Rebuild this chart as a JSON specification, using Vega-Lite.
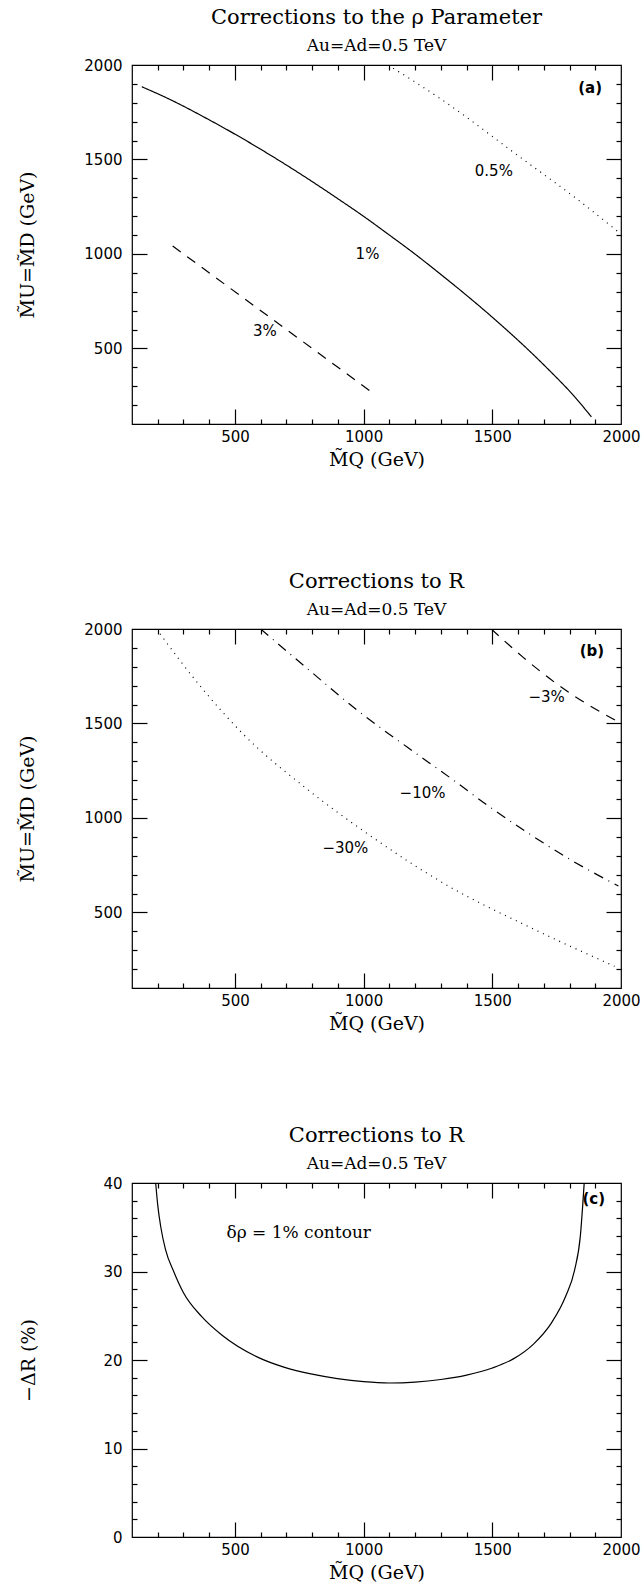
{
  "$schema": "https://vega.github.io/schema/vega-lite/v6.json",
  "background": "white",
  "padding": {"left": 18, "top": 6, "right": 10, "bottom": 5},
  "spacing": 90,
  "resolve": {"scale": {"strokeDash": "independent"}},
  "config": {
    "view": {"stroke": "black", "strokeWidth": 1.2},
    "axis": {"domain": false, "grid": false, "labelFont": "DejaVu Sans", "labelFontSize": 15, "labelColor": "black", "titleFont": "DejaVu Serif", "titleFontSize": 19, "titleFontWeight": "normal", "titleColor": "black", "tickColor": "black", "tickWidth": 1.2, "labelFlush": false, "labelOverlap": false, "format": "d"},
    "title": {"font": "DejaVu Serif", "fontSize": 21, "fontWeight": "normal", "color": "black", "subtitleFont": "DejaVu Serif", "subtitleFontSize": 17, "subtitleColor": "black", "subtitlePadding": 10, "offset": 4, "anchor": "middle"}
  },
  "vconcat": [
    {
      "width": 489, "height": 359,
      "title": {"text": "Corrections to the ρ Parameter", "subtitle": "Au=Ad=0.5 TeV"},
      "layer": [
        {
          "data": {"values": [
            {"series": "1%", "x": 138, "y": 1885}, {"series": "1%", "x": 250, "y": 1816}, {"series": "1%", "x": 386, "y": 1720}, {"series": "1%", "x": 500, "y": 1634}, {"series": "1%", "x": 600, "y": 1554}, {"series": "1%", "x": 704, "y": 1467}, {"series": "1%", "x": 800, "y": 1383}, {"series": "1%", "x": 910, "y": 1283}, {"series": "1%", "x": 1000, "y": 1199}, {"series": "1%", "x": 1100, "y": 1100}, {"series": "1%", "x": 1199, "y": 1000}, {"series": "1%", "x": 1283, "y": 910}, {"series": "1%", "x": 1383, "y": 800}, {"series": "1%", "x": 1467, "y": 704}, {"series": "1%", "x": 1554, "y": 600}, {"series": "1%", "x": 1634, "y": 500}, {"series": "1%", "x": 1720, "y": 386}, {"series": "1%", "x": 1816, "y": 250}, {"series": "1%", "x": 1885, "y": 138},
            {"series": "3%", "x": 258, "y": 1042}, {"series": "3%", "x": 650, "y": 650}, {"series": "3%", "x": 1045, "y": 255},
            {"series": "0.5%", "x": 1095, "y": 2000}, {"series": "0.5%", "x": 1300, "y": 1820}, {"series": "0.5%", "x": 1620, "y": 1500}, {"series": "0.5%", "x": 1820, "y": 1300}, {"series": "0.5%", "x": 2000, "y": 1105}
          ]},
          "mark": {"type": "line", "color": "black", "strokeWidth": 1.2, "clip": true, "interpolate": "monotone"},
          "encoding": {
            "x": {"field": "x", "type": "quantitative", "scale": {"domain": [100, 2000], "nice": false, "zero": false}, "axis": {"orient": "bottom", "values": [500, 1000, 1500, 2000], "ticks": false, "labelPadding": 5, "title": ["M̃Q (GeV)", ""], "titleLineHeight": 10, "titlePadding": 6}},
            "y": {"field": "y", "type": "quantitative", "scale": {"domain": [100, 2000], "nice": false, "zero": false}, "axis": {"orient": "left", "values": [500, 1000, 1500, 2000], "ticks": false, "labelPadding": 10, "minExtent": 48, "title": "M̃U=M̃D (GeV)", "titlePadding": 46}},
            "strokeDash": {"field": "series", "type": "nominal", "scale": {"domain": ["1%", "3%", "0.5%"], "range": [[1, 0], [10, 8], [1, 5]]}, "legend": null}
          }
        },
        {
          "data": {"values": [
            {"t": "0.5%", "x": 1506, "y": 1439}, {"t": "1%", "x": 1015, "y": 1000}, {"t": "3%", "x": 616, "y": 592}
          ]},
          "mark": {"type": "text", "font": "DejaVu Sans", "fontSize": 15, "color": "black"},
          "encoding": {
            "x": {"field": "x", "type": "quantitative", "scale": {"domain": [100, 2000], "nice": false, "zero": false}, "axis": {"orient": "bottom", "values": [200, 300, 400, 500, 600, 700, 800, 900, 1000, 1100, 1200, 1300, 1400, 1500, 1600, 1700, 1800, 1900], "labels": false, "title": null, "tickSize": {"condition": {"test": "datum.value % 500 === 0", "value": -15}, "value": -5}}},
            "y": {"field": "y", "type": "quantitative", "scale": {"domain": [100, 2000], "nice": false, "zero": false}, "axis": {"orient": "left", "values": [200, 300, 400, 500, 600, 700, 800, 900, 1000, 1100, 1200, 1300, 1400, 1500, 1600, 1700, 1800, 1900], "labels": false, "title": null, "tickSize": {"condition": {"test": "datum.value % 500 === 0", "value": -15}, "value": -5}}},
            "text": {"field": "t"}
          }
        },
        {
          "data": {"values": [{"t": "(a)", "x": 1880, "y": 1878}]},
          "mark": {"type": "text", "font": "DejaVu Sans", "fontSize": 15, "fontWeight": "bold", "color": "black"},
          "encoding": {
            "x": {"field": "x", "type": "quantitative", "scale": {"domain": [100, 2000], "nice": false, "zero": false}, "axis": {"orient": "top", "values": [200, 300, 400, 500, 600, 700, 800, 900, 1000, 1100, 1200, 1300, 1400, 1500, 1600, 1700, 1800, 1900], "labels": false, "title": null, "tickSize": {"condition": {"test": "datum.value % 500 === 0", "value": -15}, "value": -5}}},
            "y": {"field": "y", "type": "quantitative", "scale": {"domain": [100, 2000], "nice": false, "zero": false}, "axis": {"orient": "right", "values": [200, 300, 400, 500, 600, 700, 800, 900, 1000, 1100, 1200, 1300, 1400, 1500, 1600, 1700, 1800, 1900], "labels": false, "title": null, "tickSize": {"condition": {"test": "datum.value % 500 === 0", "value": -15}, "value": -5}}},
            "text": {"field": "t"}
          }
        }
      ],
      "resolve": {"axis": {"x": "independent", "y": "independent"}}
    },
    {
      "width": 489, "height": 359,
      "title": {"text": "Corrections to R", "subtitle": "Au=Ad=0.5 TeV"},
      "layer": [
        {
          "data": {"values": [
            {"series": "-30%", "x": 195, "y": 2000}, {"series": "-30%", "x": 371, "y": 1688}, {"series": "-30%", "x": 531, "y": 1445}, {"series": "-30%", "x": 778, "y": 1155}, {"series": "-30%", "x": 1009, "y": 922}, {"series": "-30%", "x": 1329, "y": 640}, {"series": "-30%", "x": 1648, "y": 420}, {"series": "-30%", "x": 1975, "y": 215},
            {"series": "-10%", "x": 600, "y": 2000}, {"series": "-10%", "x": 786, "y": 1785}, {"series": "-10%", "x": 978, "y": 1567}, {"series": "-10%", "x": 1169, "y": 1375}, {"series": "-10%", "x": 1344, "y": 1205}, {"series": "-10%", "x": 1490, "y": 1058}, {"series": "-10%", "x": 1648, "y": 912}, {"series": "-10%", "x": 1800, "y": 782}, {"series": "-10%", "x": 1990, "y": 640},
            {"series": "-3%", "x": 1496, "y": 2000}, {"series": "-3%", "x": 1620, "y": 1850}, {"series": "-3%", "x": 1760, "y": 1700}, {"series": "-3%", "x": 2000, "y": 1500}
          ]},
          "mark": {"type": "line", "color": "black", "strokeWidth": 1.2, "clip": true, "interpolate": "monotone"},
          "encoding": {
            "x": {"field": "x", "type": "quantitative", "scale": {"domain": [100, 2000], "nice": false, "zero": false}, "axis": {"orient": "bottom", "values": [500, 1000, 1500, 2000], "ticks": false, "labelPadding": 5, "title": "M̃Q (GeV)", "titlePadding": 6}},
            "y": {"field": "y", "type": "quantitative", "scale": {"domain": [100, 2000], "nice": false, "zero": false}, "axis": {"orient": "left", "values": [500, 1000, 1500, 2000], "ticks": false, "labelPadding": 10, "minExtent": 48, "title": "M̃U=M̃D (GeV)", "titlePadding": 46}},
            "strokeDash": {"field": "series", "type": "nominal", "scale": {"domain": ["-30%", "-10%", "-3%"], "range": [[1, 5], [10, 6, 1, 6], [10, 8]]}, "legend": null}
          }
        },
        {
          "data": {"values": [
            {"t": "−30%", "x": 929, "y": 839}, {"t": "−10%", "x": 1229, "y": 1134}, {"t": "−3%", "x": 1711, "y": 1641}
          ]},
          "mark": {"type": "text", "font": "DejaVu Sans", "fontSize": 15, "color": "black"},
          "encoding": {
            "x": {"field": "x", "type": "quantitative", "scale": {"domain": [100, 2000], "nice": false, "zero": false}, "axis": {"orient": "bottom", "values": [200, 300, 400, 500, 600, 700, 800, 900, 1000, 1100, 1200, 1300, 1400, 1500, 1600, 1700, 1800, 1900], "labels": false, "title": null, "tickSize": {"condition": {"test": "datum.value % 500 === 0", "value": -15}, "value": -5}}},
            "y": {"field": "y", "type": "quantitative", "scale": {"domain": [100, 2000], "nice": false, "zero": false}, "axis": {"orient": "left", "values": [200, 300, 400, 500, 600, 700, 800, 900, 1000, 1100, 1200, 1300, 1400, 1500, 1600, 1700, 1800, 1900], "labels": false, "title": null, "tickSize": {"condition": {"test": "datum.value % 500 === 0", "value": -15}, "value": -5}}},
            "text": {"field": "t"}
          }
        },
        {
          "data": {"values": [{"t": "(b)", "x": 1887, "y": 1885}]},
          "mark": {"type": "text", "font": "DejaVu Sans", "fontSize": 15, "fontWeight": "bold", "color": "black"},
          "encoding": {
            "x": {"field": "x", "type": "quantitative", "scale": {"domain": [100, 2000], "nice": false, "zero": false}, "axis": {"orient": "top", "values": [200, 300, 400, 500, 600, 700, 800, 900, 1000, 1100, 1200, 1300, 1400, 1500, 1600, 1700, 1800, 1900], "labels": false, "title": null, "tickSize": {"condition": {"test": "datum.value % 500 === 0", "value": -15}, "value": -5}}},
            "y": {"field": "y", "type": "quantitative", "scale": {"domain": [100, 2000], "nice": false, "zero": false}, "axis": {"orient": "right", "values": [200, 300, 400, 500, 600, 700, 800, 900, 1000, 1100, 1200, 1300, 1400, 1500, 1600, 1700, 1800, 1900], "labels": false, "title": null, "tickSize": {"condition": {"test": "datum.value % 500 === 0", "value": -15}, "value": -5}}},
            "text": {"field": "t"}
          }
        }
      ],
      "resolve": {"axis": {"x": "independent", "y": "independent"}}
    },
    {
      "width": 489, "height": 354,
      "title": {"text": "Corrections to R", "subtitle": "Au=Ad=0.5 TeV"},
      "layer": [
        {
          "data": {"values": [
            {"x": 192, "y": 40}, {"x": 200, "y": 37.5}, {"x": 212, "y": 35}, {"x": 230, "y": 32.5}, {"x": 262, "y": 30}, {"x": 300, "y": 27.6}, {"x": 371, "y": 24.9}, {"x": 450, "y": 22.8}, {"x": 590, "y": 20.3}, {"x": 690, "y": 19.2}, {"x": 800, "y": 18.4}, {"x": 898, "y": 17.9}, {"x": 1000, "y": 17.55}, {"x": 1100, "y": 17.4}, {"x": 1200, "y": 17.5}, {"x": 1300, "y": 17.8}, {"x": 1400, "y": 18.3}, {"x": 1500, "y": 19.1}, {"x": 1580, "y": 20.1}, {"x": 1660, "y": 21.8}, {"x": 1730, "y": 24.2}, {"x": 1785, "y": 27.2}, {"x": 1820, "y": 30.2}, {"x": 1842, "y": 34}, {"x": 1857, "y": 40}
          ]},
          "mark": {"type": "line", "color": "black", "strokeWidth": 1.2, "clip": true, "interpolate": "monotone"},
          "encoding": {
            "x": {"field": "x", "type": "quantitative", "scale": {"domain": [100, 2000], "nice": false, "zero": false}, "axis": {"orient": "bottom", "values": [500, 1000, 1500, 2000], "ticks": false, "labelPadding": 5, "title": "M̃Q (GeV)", "titlePadding": 6}},
            "y": {"field": "y", "type": "quantitative", "scale": {"domain": [0, 40], "nice": false, "zero": false}, "axis": {"orient": "left", "values": [0, 10, 20, 30, 40], "ticks": false, "labelPadding": 10, "minExtent": 48, "title": "−ΔR (%)", "titlePadding": 46}}
          }
        },
        {
          "data": {"values": [{"t": "δρ = 1% contour", "x": 467, "y": 34.4}]},
          "mark": {"type": "text", "font": "DejaVu Serif", "fontSize": 17, "align": "left", "color": "black"},
          "encoding": {
            "x": {"field": "x", "type": "quantitative", "scale": {"domain": [100, 2000], "nice": false, "zero": false}, "axis": {"orient": "bottom", "values": [200, 300, 400, 500, 600, 700, 800, 900, 1000, 1100, 1200, 1300, 1400, 1500, 1600, 1700, 1800, 1900], "labels": false, "title": null, "tickSize": {"condition": {"test": "datum.value % 500 === 0", "value": -15}, "value": -5}}},
            "y": {"field": "y", "type": "quantitative", "scale": {"domain": [0, 40], "nice": false, "zero": false}, "axis": {"orient": "left", "values": [2, 4, 6, 8, 10, 12, 14, 16, 18, 20, 22, 24, 26, 28, 30, 32, 34, 36, 38], "labels": false, "title": null, "tickSize": {"condition": {"test": "datum.value % 10 === 0", "value": -15}, "value": -5}}},
            "text": {"field": "t"}
          }
        },
        {
          "data": {"values": [{"t": "(c)", "x": 1894, "y": 38.2}]},
          "mark": {"type": "text", "font": "DejaVu Sans", "fontSize": 15, "fontWeight": "bold", "color": "black"},
          "encoding": {
            "x": {"field": "x", "type": "quantitative", "scale": {"domain": [100, 2000], "nice": false, "zero": false}, "axis": {"orient": "top", "values": [200, 300, 400, 500, 600, 700, 800, 900, 1000, 1100, 1200, 1300, 1400, 1500, 1600, 1700, 1800, 1900], "labels": false, "title": null, "tickSize": {"condition": {"test": "datum.value % 500 === 0", "value": -15}, "value": -5}}},
            "y": {"field": "y", "type": "quantitative", "scale": {"domain": [0, 40], "nice": false, "zero": false}, "axis": {"orient": "right", "values": [2, 4, 6, 8, 10, 12, 14, 16, 18, 20, 22, 24, 26, 28, 30, 32, 34, 36, 38], "labels": false, "title": null, "tickSize": {"condition": {"test": "datum.value % 10 === 0", "value": -15}, "value": -5}}},
            "text": {"field": "t"}
          }
        }
      ],
      "resolve": {"axis": {"x": "independent", "y": "independent"}}
    }
  ]
}
